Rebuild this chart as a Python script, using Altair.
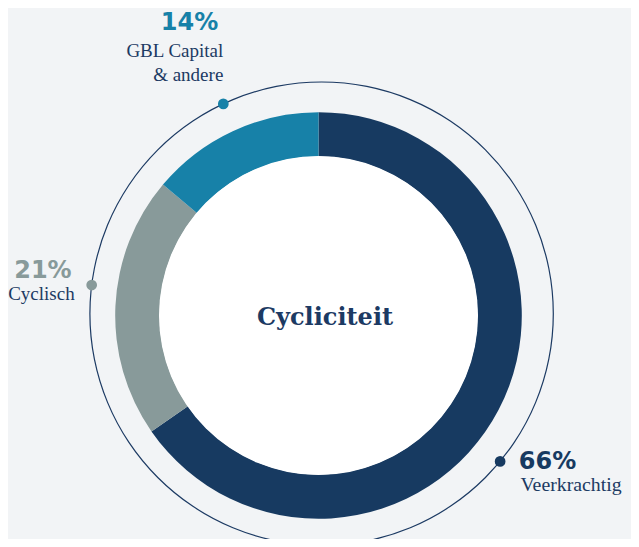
import math
import altair as alt
import pandas as pd

# ---- data ----
categories = ["Veerkrachtig", "Cyclisch", "GBL Capital & andere"]
shares = [66, 21, 14]
pct_labels = ["66%", "21%", "14%"]
name_labels = [["Veerkrachtig"], ["Cyclisch"], ["GBL Capital", "& andere"]]
marker_angles_deg = [129.6, 277.1, 334.9]
title_text = "Cycliciteit"

# ---- style / layout ----
colors = ["#173a61", "#889a9a", "#1781a8"]
BG = "#f2f4f6"
NAVY = "#1c3a63"
W, H = 623, 531
DONUT_CX, DONUT_CY = 310.5, 307.5
RING_CX, RING_CY = 313.6, 305.7
RING_R = 231.7
OUTER_R, INNER_R = 203.3, 159
# label offsets relative to each marker dot: (pct dx, pct dy, name dx, name dy, align, name size)
label_offsets = {
    "Veerkrachtig": (18.7, 7.4, 20.4, 30.0, "left", 19.8),
    "Cyclisch": (-20.0, -7.3, -17.0, 15.0, "right", 19),
    "GBL Capital & andere": (-5.0, -74.0, 0.0, -46.7, "right", 19),
}

color_scale = alt.Scale(domain=categories, range=colors)

donut_df = pd.DataFrame({"category": categories, "share": shares, "order": list(range(len(categories)))})

donut = alt.Chart(donut_df).mark_arc(outerRadius=OUTER_R, innerRadius=INNER_R).encode(
    theta=alt.Theta("share:Q", stack=True),
    order=alt.Order("order:Q"),
    color=alt.Color("category:N", scale=color_scale, legend=None),
    x=alt.value(DONUT_CX),
    y=alt.value(DONUT_CY),
)

one = pd.DataFrame({"k": [0]})

inner_disc = alt.Chart(one).mark_arc(
    theta=0, theta2=2 * math.pi, outerRadius=INNER_R + 0.5, innerRadius=0, color="#ffffff"
).encode(x=alt.value(DONUT_CX), y=alt.value(DONUT_CY))

ring = alt.Chart(one).mark_arc(
    theta=0, theta2=2 * math.pi, outerRadius=RING_R + 0.6, innerRadius=RING_R - 0.6, color=NAVY
).encode(x=alt.value(RING_CX), y=alt.value(RING_CY))

dot_x = [RING_CX + RING_R * math.sin(math.radians(a)) for a in marker_angles_deg]
dot_y = [RING_CY - RING_R * math.cos(math.radians(a)) for a in marker_angles_deg]
dots_df = pd.DataFrame({"category": categories, "x": dot_x, "y": dot_y})

dots = alt.Chart(dots_df).mark_circle(size=115, opacity=1).encode(
    x=alt.X("x:Q", scale=None, axis=None),
    y=alt.Y("y:Q", scale=None, axis=None),
    color=alt.Color("category:N", scale=color_scale, legend=None),
)

label_layers = []
for i, cat in enumerate(categories):
    pdx, pdy, ndx, ndy, align, nsize = label_offsets[cat]
    pct_df = pd.DataFrame({"t": [pct_labels[i]], "x": [dot_x[i] + pdx], "y": [dot_y[i] + pdy]})
    name_df = pd.DataFrame({"x": [dot_x[i] + ndx], "y": [dot_y[i] + ndy]})
    label_layers.append(
        alt.Chart(pct_df).mark_text(
            font="DejaVu Sans", fontSize=24, fontWeight="bold", color=colors[i],
            align=align, baseline="alphabetic",
        ).encode(
            x=alt.X("x:Q", scale=None, axis=None),
            y=alt.Y("y:Q", scale=None, axis=None),
            text="t:N",
        )
    )
    label_layers.append(
        alt.Chart(name_df).mark_text(
            text=name_labels[i], font="Liberation Serif", fontSize=nsize, color=NAVY,
            align=align, baseline="alphabetic", lineHeight=23.7,
        ).encode(
            x=alt.X("x:Q", scale=None, axis=None),
            y=alt.Y("y:Q", scale=None, axis=None),
        )
    )

title = alt.Chart(one).mark_text(
    text=title_text, font="DejaVu Serif", fontSize=24, fontWeight="bold", color=NAVY,
    align="center", baseline="alphabetic",
).encode(x=alt.value(317), y=alt.value(317))

chart = alt.layer(ring, donut, inner_disc, dots, *label_layers, title).properties(
    width=W, height=H, autosize="none", padding=0, background=BG
).configure_view(stroke=None)

chart.save("out.html", embed_options={"renderer": "svg", "actions": False})
